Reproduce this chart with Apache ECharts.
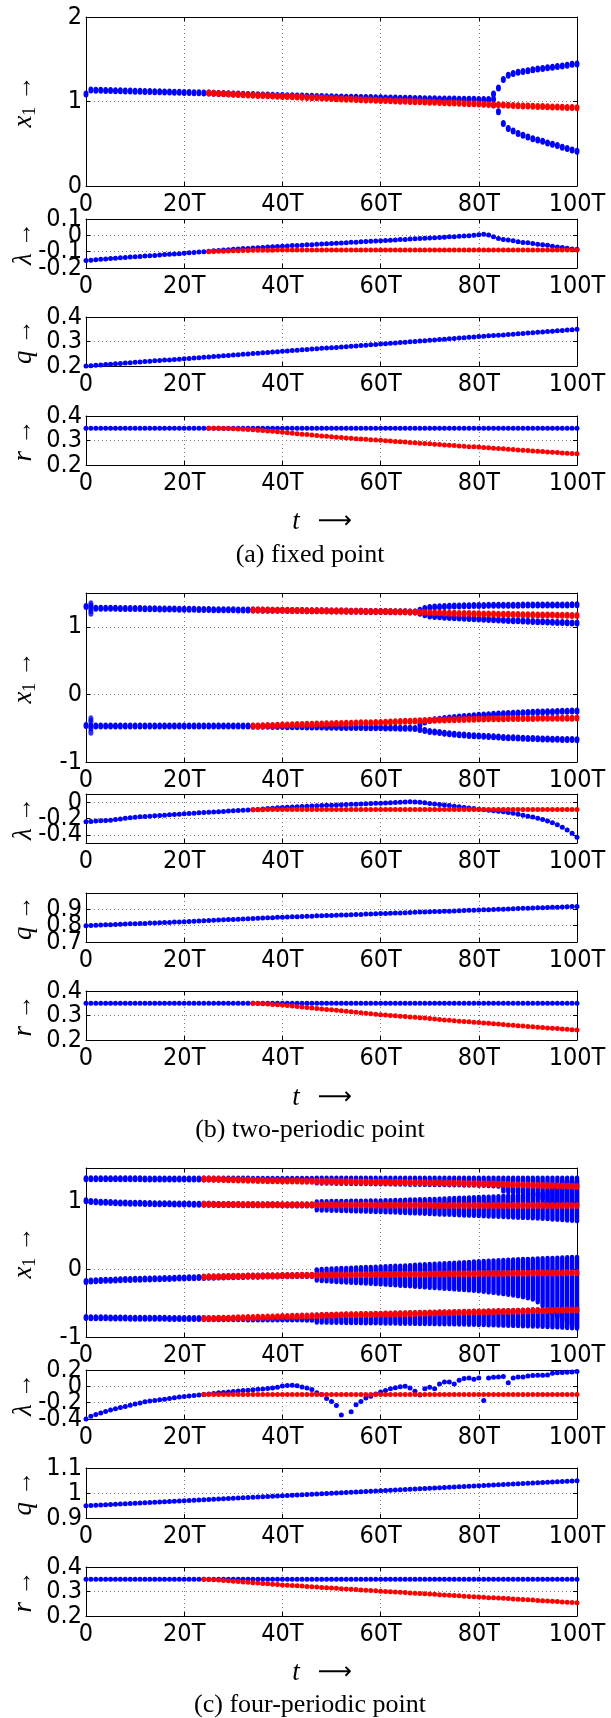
<!DOCTYPE html>
<html><head><meta charset="utf-8">
<script src="https://cdn.jsdelivr.net/npm/echarts@6/dist/echarts.min.js"></script>
<style>html,body{margin:0;padding:0;background:#fff}#c{width:611px;height:1718px}</style>
</head><body><div id="c"></div>
<script>
// ---------- tick labels ----------
const X_TICK_LABELS = ['0','20T','40T','60T','80T','100T'];
const Y_TICKS = [
  [0,1,2], [-0.2,-0.1,0,0.1], [0.2,0.3,0.4], [0.2,0.3,0.4],
  [-1,0,1], [-0.4,-0.2,0], [0.7,0.8,0.9], [0.2,0.3,0.4],
  [-1,0,1], [-0.4,-0.2,0,0.2], [0.9,1,1.1], [0.2,0.3,0.4]
];
const CAPTIONS = ['(a) fixed point','(b) two-periodic point','(c) four-periodic point'];

// ---------- panel (a) fixed point ----------
const A_X1_BLUE = [ // t = 0..83
1.090,1.135,1.134,1.133,1.131,1.130,1.128,1.127,1.125,1.124,
1.122,1.121,1.119,1.118,1.116,1.115,1.113,1.112,1.110,1.109,
1.107,1.106,1.104,1.103,1.101,1.100,1.098,1.096,1.094,1.092,
1.090,1.088,1.086,1.084,1.082,1.080,1.078,1.076,1.074,1.072,
1.070,1.068,1.067,1.065,1.064,1.062,1.061,1.059,1.058,1.056,
1.055,1.054,1.053,1.051,1.050,1.049,1.048,1.047,1.046,1.044,
1.043,1.042,1.041,1.040,1.039,1.038,1.037,1.036,1.035,1.034,
1.033,1.032,1.031,1.031,1.030,1.029,1.028,1.028,1.027,1.026,
1.025,1.025,1.025,1.028];
const A_X1_BLUE_UP = [ // t = 83..100
1.090,1.160,1.260,1.310,1.330,1.345,1.355,1.365,1.375,1.385,1.390,1.400,1.405,1.415,1.420,1.430,1.440,1.445];
const A_X1_BLUE_LOW = [ // t = 83..100
0.960,0.880,0.740,0.680,0.650,0.620,0.600,0.580,0.560,0.545,0.530,0.510,0.495,0.480,0.460,0.445,0.425,0.410];
const A_X1_RED = [ // t = 25..100
1.100,1.097,1.094,1.091,1.088,1.085,1.082,1.080,1.077,1.075,
1.072,1.070,1.067,1.065,1.062,1.060,1.058,1.055,1.053,1.050,
1.048,1.045,1.043,1.040,1.038,1.035,1.033,1.031,1.028,1.026,
1.024,1.022,1.019,1.017,1.015,1.013,1.011,1.009,1.006,1.004,
1.002,1.000,0.998,0.996,0.994,0.992,0.990,0.988,0.985,0.983,
0.981,0.979,0.976,0.974,0.972,0.969,0.967,0.965,0.963,0.961,
0.958,0.955,0.953,0.950,0.948,0.946,0.944,0.942,0.940,0.938,
0.936,0.934,0.932,0.930,0.928,0.926];
const A_LAM_BLUE = [ // t = 0..100
-0.154,-0.152,-0.149,-0.147,-0.145,-0.142,-0.140,-0.138,-0.135,-0.133,
-0.131,-0.129,-0.127,-0.125,-0.123,-0.120,-0.118,-0.116,-0.114,-0.112,
-0.110,-0.107,-0.105,-0.102,-0.100,-0.098,-0.095,-0.093,-0.090,-0.088,
-0.085,-0.083,-0.081,-0.080,-0.078,-0.076,-0.074,-0.072,-0.070,-0.069,
-0.067,-0.065,-0.063,-0.062,-0.060,-0.058,-0.057,-0.055,-0.053,-0.052,
-0.050,-0.048,-0.047,-0.045,-0.043,-0.042,-0.040,-0.038,-0.036,-0.035,
-0.033,-0.031,-0.030,-0.028,-0.026,-0.025,-0.023,-0.021,-0.020,-0.018,
-0.017,-0.015,-0.013,-0.011,-0.009,-0.008,-0.006,-0.004,-0.002,0.000,
0.004,0.006,0.002,-0.008,-0.019,-0.025,-0.029,-0.033,-0.040,-0.044,
-0.046,-0.050,-0.054,-0.058,-0.060,-0.067,-0.071,-0.075,-0.079,-0.083,-0.085];
const A_LAM_RED = [ // t = 25..100
-0.100,-0.099,-0.098,-0.097,-0.096,-0.095,-0.094,-0.093,-0.093,-0.092,
-0.092,-0.091,-0.091,-0.091,-0.090,
-0.090,-0.090,-0.090,-0.090,-0.090,-0.090,-0.090,-0.090,-0.090,-0.090,
-0.090,-0.090,-0.090,-0.090,-0.090,-0.090,-0.090,-0.090,-0.090,-0.090,
-0.090,-0.090,-0.090,-0.090,-0.090,-0.090,-0.090,-0.090,-0.090,-0.090,
-0.090,-0.090,-0.090,-0.090,-0.090,-0.090,-0.090,-0.090,-0.090,-0.090,
-0.090,-0.090,-0.090,-0.090,-0.090,-0.090,-0.090,-0.090,-0.090,-0.090,
-0.090,-0.090,-0.090,-0.090,-0.090,-0.090,-0.090,-0.090,-0.090,-0.090,-0.090];
const A_Q = [ // t = 0..100
0.200,0.201,0.203,0.204,0.206,0.207,0.209,0.210,0.212,0.213,
0.215,0.216,0.218,0.219,0.221,0.222,0.224,0.225,0.227,0.228,
0.230,0.231,0.233,0.234,0.236,0.237,0.239,0.240,0.242,0.243,
0.245,0.246,0.248,0.249,0.251,0.252,0.254,0.255,0.257,0.258,
0.260,0.261,0.263,0.264,0.266,0.267,0.269,0.270,0.272,0.273,
0.275,0.276,0.278,0.279,0.281,0.282,0.284,0.285,0.287,0.288,
0.290,0.291,0.293,0.294,0.296,0.297,0.299,0.300,0.302,0.303,
0.305,0.306,0.308,0.309,0.311,0.312,0.314,0.315,0.317,0.318,
0.320,0.321,0.323,0.324,0.326,0.327,0.329,0.330,0.332,0.333,
0.335,0.336,0.338,0.339,0.341,0.342,0.344,0.345,0.347,0.348,0.350];
const A_R_BLUE = [ // t = 0..100
0.35,0.35,0.35,0.35,0.35,0.35,0.35,0.35,0.35,0.35,
0.35,0.35,0.35,0.35,0.35,0.35,0.35,0.35,0.35,0.35,
0.35,0.35,0.35,0.35,0.35,0.35,0.35,0.35,0.35,0.35,
0.35,0.35,0.35,0.35,0.35,0.35,0.35,0.35,0.35,0.35,
0.35,0.35,0.35,0.35,0.35,0.35,0.35,0.35,0.35,0.35,
0.35,0.35,0.35,0.35,0.35,0.35,0.35,0.35,0.35,0.35,
0.35,0.35,0.35,0.35,0.35,0.35,0.35,0.35,0.35,0.35,
0.35,0.35,0.35,0.35,0.35,0.35,0.35,0.35,0.35,0.35,
0.35,0.35,0.35,0.35,0.35,0.35,0.35,0.35,0.35,0.35,
0.35,0.35,0.35,0.35,0.35,0.35,0.35,0.35,0.35,0.35,0.35];
const A_R_RED = [ // t = 25..100
0.350,0.350,0.350,0.349,0.349,0.348,0.347,0.346,0.345,0.344,
0.342,0.341,0.339,0.338,0.336,0.334,0.332,0.330,0.328,0.326,
0.324,0.322,0.320,0.318,0.317,0.315,0.313,0.312,0.310,0.309,
0.307,0.306,0.305,0.303,0.302,0.301,0.299,0.298,0.296,0.295,
0.294,0.292,0.291,0.289,0.288,0.287,0.285,0.284,0.282,0.281,
0.280,0.278,0.277,0.275,0.274,0.273,0.271,0.270,0.268,0.267,
0.266,0.264,0.263,0.261,0.260,0.259,0.257,0.256,0.255,0.253,
0.252,0.251,0.249,0.248,0.247,0.246];

// ---------- panel (b) two-periodic point ----------
const B_X1_BLUE_UP = [ // t = 0..67
1.300,1.285,1.276,1.275,1.274,1.273,1.273,1.272,1.271,1.270,
1.270,1.269,1.268,1.267,1.266,1.265,1.264,1.263,1.262,1.261,
1.260,1.259,1.258,1.257,1.256,1.255,1.254,1.253,1.253,1.252,
1.251,1.250,1.249,1.249,1.248,1.247,1.246,1.246,1.245,1.244,
1.243,1.242,1.242,1.241,1.240,1.239,1.238,1.237,1.236,1.236,
1.235,1.234,1.233,1.232,1.231,1.230,1.229,1.228,1.228,1.227,
1.226,1.225,1.224,1.223,1.222,1.221,1.220,1.220];
const B_X1_BLUE_UP_HI = [ // t = 68..100
1.245,1.270,1.285,1.292,1.297,1.301,1.304,1.306,1.308,1.310,1.312,1.314,
1.315,1.316,1.317,1.317,1.318,1.319,1.319,1.320,1.320,1.321,
1.321,1.322,1.322,1.322,1.323,1.323,1.323,1.324,1.324,1.325,1.325];
const B_X1_BLUE_UP_LO = [ // t = 68..100
1.200,1.178,1.160,1.153,1.147,1.142,1.137,1.133,1.129,1.126,1.123,1.120,
1.117,1.113,1.109,1.105,1.101,1.097,1.094,1.091,1.088,1.085,
1.082,1.079,1.076,1.073,1.071,1.068,1.065,1.063,1.060,1.058,1.055];
const B_X1_BLUE_LOW = [ // t = 0..67
-0.460,-0.465,-0.467,-0.467,-0.468,-0.468,-0.468,-0.468,-0.468,-0.468,
-0.468,-0.468,-0.468,-0.468,-0.468,-0.468,-0.468,-0.468,-0.468,-0.468,
-0.468,-0.468,-0.468,-0.468,-0.468,-0.468,-0.468,-0.468,-0.468,-0.468,
-0.468,-0.468,-0.469,-0.469,-0.470,-0.471,-0.472,-0.473,-0.474,-0.475,
-0.476,-0.477,-0.478,-0.479,-0.480,-0.481,-0.482,-0.483,-0.484,-0.485,
-0.486,-0.487,-0.488,-0.488,-0.489,-0.490,-0.491,-0.492,-0.493,-0.494,
-0.495,-0.496,-0.497,-0.498,-0.499,-0.500,-0.501,-0.505];
const B_X1_BLUE_LOW_HI = [ // t = 68..100
-0.450,-0.410,-0.385,-0.375,-0.366,-0.357,-0.349,-0.342,-0.335,-0.328,-0.322,-0.316,
-0.310,-0.305,-0.300,-0.295,-0.291,-0.287,-0.283,-0.279,-0.275,-0.272,
-0.268,-0.265,-0.262,-0.259,-0.257,-0.255,-0.253,-0.251,-0.249,-0.247,-0.246];
const B_X1_BLUE_LOW_LO = [ // t = 68..100
-0.520,-0.535,-0.547,-0.556,-0.565,-0.573,-0.581,-0.590,-0.596,-0.602,-0.607,-0.612,
-0.616,-0.620,-0.624,-0.628,-0.632,-0.636,-0.640,-0.643,-0.646,-0.649,
-0.652,-0.654,-0.656,-0.658,-0.660,-0.662,-0.664,-0.666,-0.667,-0.668,-0.670];
const B_X1_TRANSIENT = [1.34,1.31,1.24,1.20,-0.36,-0.40,-0.50,-0.56]; // all at t = 1
const B_X1_RED_UP = [ // t = 34..100
1.250,1.249,1.248,1.247,1.246,1.245,1.244,1.243,1.242,1.241,
1.240,1.239,1.238,1.237,1.236,1.235,1.234,1.233,1.232,1.231,
1.231,1.230,1.229,1.228,1.228,1.227,1.227,1.226,1.225,1.224,
1.223,1.222,1.220,1.219,1.217,1.214,1.211,1.208,1.206,1.204,
1.202,1.200,1.198,1.197,1.195,1.194,1.192,1.191,1.189,1.188,
1.186,1.185,1.184,1.182,1.181,1.180,1.179,1.177,1.176,1.175,
1.174,1.173,1.172,1.171,1.170,1.168,1.167];
const B_X1_RED_LOW = [ // t = 34..100
-0.468,-0.466,-0.463,-0.461,-0.459,-0.457,-0.454,-0.452,-0.450,-0.447,
-0.445,-0.443,-0.441,-0.439,-0.437,-0.435,-0.433,-0.431,-0.429,-0.427,
-0.425,-0.423,-0.421,-0.420,-0.418,-0.416,-0.414,-0.411,-0.408,-0.405,
-0.402,-0.399,-0.396,-0.393,-0.390,-0.387,-0.384,-0.382,-0.380,-0.378,
-0.376,-0.374,-0.372,-0.370,-0.368,-0.366,-0.364,-0.363,-0.362,-0.361,
-0.360,-0.359,-0.358,-0.357,-0.357,-0.356,-0.355,-0.355,-0.354,-0.354,
-0.353,-0.353,-0.352,-0.352,-0.351,-0.351,-0.350];
const B_LAM_BLUE = [ // t = 0..100
-0.240,-0.236,-0.232,-0.228,-0.224,-0.220,-0.212,-0.205,-0.198,-0.191,
-0.184,-0.179,-0.175,-0.171,-0.167,-0.163,-0.159,-0.155,-0.151,-0.147,
-0.143,-0.139,-0.135,-0.131,-0.127,-0.123,-0.120,-0.116,-0.113,-0.109,
-0.106,-0.103,-0.100,-0.097,-0.094,-0.089,-0.084,-0.079,-0.074,-0.069,
-0.065,-0.062,-0.059,-0.056,-0.053,-0.050,-0.047,-0.044,-0.041,-0.039,
-0.037,-0.034,-0.032,-0.029,-0.027,-0.024,-0.022,-0.019,-0.017,-0.014,
-0.012,-0.009,-0.006,-0.003,0.000,0.002,0.004,0.003,0.000,-0.008,
-0.016,-0.022,-0.029,-0.036,-0.042,-0.049,-0.056,-0.064,-0.071,-0.079,
-0.086,-0.092,-0.099,-0.105,-0.112,-0.118,-0.127,-0.137,-0.148,-0.159,
-0.171,-0.183,-0.196,-0.211,-0.230,-0.253,-0.278,-0.306,-0.340,-0.380,-0.429];
const B_LAM_RED = [ // t = 34..100
-0.094,-0.093,-0.092,-0.091,-0.090,-0.090,-0.090,-0.090,-0.090,-0.090,
-0.090,-0.090,-0.090,-0.090,-0.090,-0.090,-0.090,-0.090,-0.090,-0.090,
-0.090,-0.090,-0.090,-0.090,-0.090,-0.090,-0.090,-0.090,-0.090,-0.090,
-0.090,-0.090,-0.090,-0.090,-0.090,-0.090,-0.090,-0.090,-0.090,-0.090,
-0.090,-0.090,-0.090,-0.090,-0.090,-0.090,-0.090,-0.090,-0.090,-0.090,
-0.090,-0.090,-0.090,-0.090,-0.090,-0.090,-0.090,-0.090,-0.090,-0.090,
-0.090,-0.090,-0.090,-0.090,-0.090,-0.090,-0.090];
const B_Q = [ // t = 0..100
0.800,0.801,0.802,0.804,0.805,0.806,0.807,0.808,0.810,0.811,
0.812,0.813,0.814,0.816,0.817,0.818,0.819,0.820,0.822,0.823,
0.824,0.826,0.827,0.829,0.830,0.831,0.833,0.834,0.836,0.837,
0.838,0.840,0.841,0.842,0.844,0.845,0.847,0.848,0.849,0.851,
0.852,0.853,0.854,0.855,0.856,0.857,0.858,0.860,0.861,0.862,
0.863,0.864,0.865,0.866,0.867,0.868,0.869,0.871,0.872,0.873,
0.874,0.875,0.876,0.877,0.878,0.879,0.880,0.882,0.883,0.884,
0.885,0.886,0.887,0.888,0.889,0.890,0.891,0.893,0.894,0.895,
0.896,0.897,0.898,0.899,0.900,0.901,0.902,0.904,0.905,0.906,
0.907,0.908,0.909,0.910,0.911,0.912,0.913,0.915,0.916,0.917,0.918];
const B_R_BLUE = [ // t = 0..100
0.35,0.35,0.35,0.35,0.35,0.35,0.35,0.35,0.35,0.35,
0.35,0.35,0.35,0.35,0.35,0.35,0.35,0.35,0.35,0.35,
0.35,0.35,0.35,0.35,0.35,0.35,0.35,0.35,0.35,0.35,
0.35,0.35,0.35,0.35,0.35,0.35,0.35,0.35,0.35,0.35,
0.35,0.35,0.35,0.35,0.35,0.35,0.35,0.35,0.35,0.35,
0.35,0.35,0.35,0.35,0.35,0.35,0.35,0.35,0.35,0.35,
0.35,0.35,0.35,0.35,0.35,0.35,0.35,0.35,0.35,0.35,
0.35,0.35,0.35,0.35,0.35,0.35,0.35,0.35,0.35,0.35,
0.35,0.35,0.35,0.35,0.35,0.35,0.35,0.35,0.35,0.35,
0.35,0.35,0.35,0.35,0.35,0.35,0.35,0.35,0.35,0.35,0.35];
const B_R_RED = [ // t = 34..100
0.350,0.349,0.348,0.347,0.345,0.344,0.343,0.341,0.339,0.337,
0.335,0.333,0.331,0.329,0.327,0.325,0.323,0.321,0.319,0.317,
0.315,0.313,0.311,0.309,0.307,0.305,0.303,0.302,0.300,0.299,
0.297,0.296,0.294,0.293,0.291,0.290,0.288,0.286,0.284,0.282,
0.281,0.279,0.277,0.276,0.274,0.272,0.271,0.269,0.268,0.266,
0.265,0.263,0.261,0.260,0.258,0.257,0.255,0.254,0.252,0.251,
0.249,0.248,0.247,0.245,0.244,0.242,0.241];

// ---------- panel (c) four-periodic point ----------
const C_X1_BLUE_1 = [ // t = 0..46
1.342,1.342,1.342,1.341,1.341,1.341,1.341,1.340,1.340,1.340,
1.340,1.340,1.339,1.339,1.339,1.339,1.339,1.338,1.338,1.338,
1.338,1.338,1.338,1.337,1.337,1.337,1.337,1.337,1.336,1.336,
1.336,1.336,1.336,1.336,1.335,1.335,1.335,1.335,1.335,1.334,
1.334,1.334,1.334,1.334,1.333,1.333,1.333];
const C_X1_BLUE_2 = [ // t = 0..46
1.015,1.005,1.000,0.995,0.992,0.989,0.986,0.984,0.982,0.980,
0.978,0.977,0.975,0.974,0.973,0.972,0.971,0.970,0.969,0.968,
0.967,0.966,0.965,0.964,0.963,0.962,0.962,0.961,0.960,0.960,
0.959,0.959,0.958,0.958,0.957,0.957,0.956,0.956,0.955,0.955,
0.954,0.954,0.953,0.953,0.952,0.952,0.951];
const C_X1_BLUE_3 = [ // t = 0..46
-0.178,-0.172,-0.168,-0.165,-0.162,-0.159,-0.156,-0.153,-0.151,-0.149,
-0.147,-0.145,-0.143,-0.141,-0.139,-0.137,-0.135,-0.133,-0.131,-0.129,
-0.127,-0.125,-0.123,-0.121,-0.119,-0.117,-0.115,-0.113,-0.111,-0.109,
-0.108,-0.106,-0.105,-0.103,-0.102,-0.100,-0.099,-0.098,-0.097,-0.096,
-0.095,-0.094,-0.093,-0.092,-0.091,-0.090,-0.089];
const C_X1_BLUE_4 = [ // t = 0..46
-0.712,-0.714,-0.715,-0.716,-0.717,-0.718,-0.719,-0.720,-0.720,-0.721,
-0.721,-0.722,-0.722,-0.723,-0.723,-0.724,-0.724,-0.725,-0.725,-0.726,
-0.726,-0.727,-0.727,-0.728,-0.728,-0.729,-0.729,-0.730,-0.730,-0.730,
-0.731,-0.731,-0.731,-0.732,-0.732,-0.732,-0.733,-0.733,-0.733,-0.734,
-0.734,-0.734,-0.735,-0.735,-0.735,-0.736,-0.736];
// spread of the uncontrolled iterates, t = 47..100 (low / high of each band)
const C_BAND1_HI = [
1.352,1.352,1.352,1.352,1.352,1.352,1.352,1.352,1.352,1.352,
1.352,1.352,1.352,1.352,1.352,1.352,1.352,1.352,1.352,1.352,
1.352,1.352,1.352,1.352,1.352,1.352,1.352,1.352,1.352,1.352,
1.352,1.352,1.352,1.352,1.352,1.352,1.352,1.352,1.352,1.352,
1.352,1.352,1.352,1.352,1.352,1.352,1.352,1.352,1.352,1.352,
1.352,1.352,1.352,1.352];
const C_BAND1_LO = [
1.278,1.277,1.276,1.275,1.274,1.273,1.272,1.271,1.270,1.269,
1.268,1.267,1.266,1.265,1.264,1.263,1.262,1.261,1.260,1.259,
1.258,1.257,1.256,1.255,1.254,1.253,1.252,1.251,1.250,1.249,
1.248,1.247,1.246,1.244,1.242,1.240,1.236,1.230,1.160,1.150,
1.145,1.140,1.135,1.130,1.125,1.100,1.050,0.990,0.980,0.975,
0.970,0.965,0.960,0.955];
const C_BAND2_HI = [
1.000,1.002,1.004,1.005,1.006,1.007,1.008,1.009,1.010,1.011,
1.012,1.013,1.014,1.015,1.017,1.019,1.021,1.023,1.025,1.027,
1.029,1.031,1.033,1.035,1.038,1.041,1.044,1.047,1.050,1.053,
1.056,1.059,1.062,1.065,1.068,1.071,1.074,1.077,1.082,1.087,
1.092,1.097,1.102,1.107,1.112,1.117,1.122,1.150,1.200,1.250,
1.300,1.300,1.300,1.300];
const C_BAND2_LO = [
0.880,0.878,0.876,0.874,0.872,0.870,0.868,0.866,0.864,0.862,
0.860,0.858,0.856,0.854,0.852,0.849,0.846,0.843,0.840,0.837,
0.834,0.831,0.828,0.825,0.822,0.819,0.816,0.813,0.810,0.807,
0.804,0.801,0.798,0.795,0.792,0.789,0.786,0.783,0.780,0.777,
0.774,0.771,0.768,0.765,0.762,0.758,0.754,0.750,0.745,0.740,
0.735,0.730,0.725,0.720];
const C_BAND3_HI = [
-0.005,0.000,0.005,0.008,0.011,0.014,0.017,0.020,0.023,0.026,
0.029,0.032,0.035,0.038,0.041,0.044,0.047,0.050,0.054,0.058,
0.062,0.066,0.070,0.074,0.078,0.082,0.086,0.090,0.094,0.098,
0.102,0.106,0.110,0.114,0.118,0.122,0.126,0.130,0.134,0.138,
0.141,0.144,0.147,0.150,0.153,0.156,0.159,0.162,0.165,0.168,
0.171,0.174,0.177,0.180];
const C_BAND3_LO = [
-0.160,-0.165,-0.170,-0.175,-0.180,-0.184,-0.188,-0.192,-0.196,-0.200,
-0.204,-0.208,-0.212,-0.216,-0.220,-0.225,-0.230,-0.235,-0.240,-0.245,
-0.250,-0.255,-0.260,-0.265,-0.270,-0.275,-0.280,-0.285,-0.290,-0.295,
-0.300,-0.305,-0.310,-0.318,-0.326,-0.334,-0.342,-0.350,-0.360,-0.370,
-0.380,-0.392,-0.405,-0.420,-0.440,-0.480,-0.540,-0.600,-0.650,-0.700,
-0.750,-0.800,-0.820,-0.850];
const C_BAND4_HI = [
-0.675,-0.673,-0.671,-0.669,-0.667,-0.665,-0.663,-0.661,-0.660,-0.659,
-0.658,-0.657,-0.655,-0.653,-0.651,-0.650,-0.648,-0.646,-0.645,-0.643,
-0.641,-0.640,-0.638,-0.636,-0.635,-0.633,-0.631,-0.630,-0.628,-0.627,
-0.625,-0.624,-0.622,-0.621,-0.619,-0.617,-0.616,-0.614,-0.612,-0.610,
-0.608,-0.606,-0.604,-0.602,-0.600,-0.598,-0.596,-0.594,-0.592,-0.590,
-0.585,-0.575,-0.565,-0.555];
const C_BAND4_LO = [
-0.780,-0.781,-0.782,-0.783,-0.784,-0.785,-0.786,-0.787,-0.788,-0.789,
-0.790,-0.791,-0.792,-0.793,-0.794,-0.795,-0.796,-0.797,-0.798,-0.799,
-0.800,-0.801,-0.802,-0.803,-0.804,-0.805,-0.806,-0.807,-0.808,-0.809,
-0.810,-0.812,-0.814,-0.816,-0.818,-0.820,-0.822,-0.824,-0.826,-0.828,
-0.830,-0.832,-0.834,-0.836,-0.838,-0.840,-0.843,-0.846,-0.849,-0.852,
-0.856,-0.860,-0.865,-0.870];
const C_X1_RED_1 = [ // t = 24..100
1.338,1.336,1.334,1.332,1.330,1.328,1.326,1.324,1.322,1.320,
1.318,1.316,1.315,1.313,1.312,1.310,1.309,1.308,1.307,1.306,
1.305,1.304,1.303,1.302,1.301,1.300,1.299,1.298,1.297,1.296,
1.295,1.294,1.293,1.292,1.291,1.290,1.289,1.288,1.287,1.286,
1.285,1.284,1.283,1.282,1.281,1.280,1.279,1.278,1.277,1.276,
1.275,1.274,1.273,1.272,1.271,1.270,1.268,1.266,1.264,1.262,
1.260,1.258,1.256,1.254,1.252,1.250,1.248,1.246,1.244,1.242,
1.240,1.238,1.236,1.234,1.232,1.230,1.228];
const C_X1_RED_2 = [ // t = 24..100
0.962,0.962,0.961,0.961,0.961,0.960,0.960,0.960,0.959,0.959,
0.959,0.958,0.958,0.958,0.957,0.957,0.957,0.956,0.956,0.956,
0.955,0.955,0.955,0.954,0.954,0.954,0.953,0.953,0.953,0.952,
0.952,0.952,0.951,0.951,0.951,0.950,0.950,0.950,0.950,0.949,
0.949,0.949,0.949,0.948,0.948,0.948,0.948,0.947,0.947,0.947,
0.947,0.947,0.946,0.946,0.946,0.946,0.946,0.946,0.945,0.945,
0.945,0.945,0.945,0.945,0.945,0.945,0.945,0.945,0.945,0.945,
0.945,0.945,0.945,0.945,0.945,0.945,0.945];
const C_X1_RED_3 = [ // t = 24..100
-0.112,-0.110,-0.109,-0.107,-0.106,-0.104,-0.103,-0.101,-0.100,-0.099,
-0.098,-0.097,-0.096,-0.095,-0.094,-0.093,-0.092,-0.091,-0.090,-0.089,
-0.088,-0.087,-0.087,-0.086,-0.085,-0.084,-0.084,-0.083,-0.082,-0.081,
-0.081,-0.080,-0.079,-0.078,-0.078,-0.077,-0.076,-0.075,-0.075,-0.074,
-0.073,-0.073,-0.072,-0.071,-0.071,-0.070,-0.069,-0.068,-0.068,-0.067,
-0.066,-0.066,-0.065,-0.064,-0.064,-0.063,-0.062,-0.062,-0.061,-0.060,
-0.060,-0.059,-0.058,-0.058,-0.057,-0.057,-0.056,-0.055,-0.055,-0.054,
-0.054,-0.053,-0.052,-0.052,-0.051,-0.051,-0.050];
const C_X1_RED_4 = [ // t = 24..100
-0.728,-0.727,-0.726,-0.724,-0.723,-0.721,-0.719,-0.717,-0.715,-0.713,
-0.711,-0.709,-0.707,-0.705,-0.703,-0.700,-0.698,-0.696,-0.694,-0.692,
-0.690,-0.688,-0.686,-0.684,-0.682,-0.680,-0.678,-0.676,-0.674,-0.672,
-0.671,-0.670,-0.669,-0.668,-0.667,-0.665,-0.663,-0.661,-0.660,-0.658,
-0.656,-0.655,-0.653,-0.651,-0.650,-0.648,-0.646,-0.645,-0.643,-0.641,
-0.640,-0.638,-0.637,-0.635,-0.634,-0.632,-0.631,-0.629,-0.628,-0.626,
-0.624,-0.623,-0.621,-0.620,-0.618,-0.616,-0.615,-0.613,-0.612,-0.610,
-0.608,-0.607,-0.605,-0.604,-0.602,-0.601,-0.600];
const C_LAM_BLUE = [ // t = 0..100 (null: point below the axis range)
-0.400,-0.367,-0.346,-0.326,-0.307,-0.290,-0.274,-0.260,-0.247,-0.231,
-0.215,-0.203,-0.190,-0.181,-0.173,-0.165,-0.157,-0.148,-0.140,-0.132,
-0.124,-0.117,-0.111,-0.105,-0.099,-0.093,-0.087,-0.080,-0.074,-0.068,
-0.062,-0.057,-0.052,-0.048,-0.043,-0.037,-0.032,-0.027,-0.020,-0.012,
0.004,0.010,0.012,0.006,-0.008,-0.020,-0.040,-0.080,-0.100,-0.150,
-0.186,-0.235,-0.350,null,-0.310,-0.227,-0.186,-0.144,-0.120,-0.095,
-0.070,-0.050,-0.030,-0.016,-0.005,0.000,-0.020,-0.060,-0.105,-0.030,
-0.010,-0.030,0.030,0.054,0.054,0.030,0.074,0.095,0.103,0.087,
0.103,-0.173,0.103,0.111,0.115,0.120,0.045,0.103,0.115,0.115,
0.128,0.132,0.136,0.136,0.140,0.160,0.165,0.169,0.173,0.177,0.182];
const C_LAM_RED = [ // t = 24..100
-0.100,-0.100,-0.100,-0.100,-0.100,-0.100,-0.100,-0.100,-0.100,-0.100,
-0.100,-0.100,-0.100,-0.100,-0.100,-0.100,-0.100,-0.100,-0.100,-0.100,
-0.100,-0.100,-0.100,-0.100,-0.100,-0.100,-0.100,-0.100,-0.100,-0.100,
-0.100,-0.100,-0.100,-0.100,-0.100,-0.100,-0.100,-0.100,-0.100,-0.100,
-0.100,-0.100,-0.100,-0.100,-0.100,-0.100,-0.100,-0.100,-0.100,-0.100,
-0.100,-0.100,-0.100,-0.100,-0.100,-0.100,-0.100,-0.100,-0.100,-0.100,
-0.100,-0.100,-0.100,-0.100,-0.100,-0.100,-0.100,-0.100,-0.100,-0.100,
-0.100,-0.100,-0.100,-0.100,-0.100,-0.100,-0.100];
const C_Q = [ // t = 0..100
0.949,0.950,0.951,0.952,0.953,0.954,0.955,0.956,0.957,0.958,
0.959,0.960,0.961,0.962,0.963,0.964,0.965,0.966,0.967,0.968,
0.969,0.970,0.971,0.972,0.973,0.974,0.975,0.976,0.977,0.978,
0.979,0.980,0.981,0.982,0.983,0.984,0.985,0.986,0.987,0.988,
0.989,0.990,0.991,0.992,0.993,0.994,0.995,0.996,0.997,0.998,
0.999,1.000,1.001,1.002,1.003,1.004,1.005,1.006,1.007,1.008,
1.009,1.010,1.011,1.012,1.013,1.014,1.015,1.016,1.017,1.018,
1.019,1.020,1.021,1.022,1.023,1.024,1.025,1.026,1.027,1.028,
1.029,1.030,1.031,1.032,1.033,1.034,1.035,1.036,1.037,1.038,
1.039,1.040,1.041,1.042,1.043,1.044,1.045,1.046,1.047,1.048,1.049];
const C_R_BLUE = [ // t = 0..100
0.35,0.35,0.35,0.35,0.35,0.35,0.35,0.35,0.35,0.35,
0.35,0.35,0.35,0.35,0.35,0.35,0.35,0.35,0.35,0.35,
0.35,0.35,0.35,0.35,0.35,0.35,0.35,0.35,0.35,0.35,
0.35,0.35,0.35,0.35,0.35,0.35,0.35,0.35,0.35,0.35,
0.35,0.35,0.35,0.35,0.35,0.35,0.35,0.35,0.35,0.35,
0.35,0.35,0.35,0.35,0.35,0.35,0.35,0.35,0.35,0.35,
0.35,0.35,0.35,0.35,0.35,0.35,0.35,0.35,0.35,0.35,
0.35,0.35,0.35,0.35,0.35,0.35,0.35,0.35,0.35,0.35,
0.35,0.35,0.35,0.35,0.35,0.35,0.35,0.35,0.35,0.35,
0.35,0.35,0.35,0.35,0.35,0.35,0.35,0.35,0.35,0.35,0.35];
const C_R_RED = [ // t = 24..100
0.350,0.349,0.348,0.347,0.345,0.344,0.342,0.341,0.339,0.338,
0.336,0.335,0.333,0.332,0.330,0.329,0.327,0.326,0.324,0.323,
0.322,0.320,0.319,0.318,0.316,0.315,0.314,0.313,0.311,0.310,
0.309,0.308,0.306,0.305,0.304,0.303,0.301,0.300,0.299,0.298,
0.297,0.296,0.294,0.293,0.292,0.291,0.290,0.289,0.287,0.286,
0.285,0.284,0.283,0.281,0.280,0.279,0.278,0.277,0.275,0.274,
0.273,0.272,0.271,0.269,0.268,0.267,0.266,0.265,0.263,0.262,
0.261,0.260,0.259,0.257,0.256,0.255,0.254];

// ---------- styling / layout ----------
const BLUE = '#0000ff', RED = '#ff0000';
const NUM_FONT = "'Liberation Sans Narrow','DejaVu Sans Condensed','Liberation Sans',sans-serif";
const SERIF = "'Liberation Serif','DejaVu Serif',serif";
const PLOT_LEFT = 86, PLOT_WIDTH = 491;
const GRIDS = [
  [17,169],[219,49],[317,49],[416,49],
  [593,169],[794,49],[893,49],[991,49],
  [1168,169],[1370,49],[1468,50],[1567,49]
];
const Y_AXES = [
  {min:0,max:2,interval:1,name:'x'}, {min:-0.2,max:0.1,interval:0.1,name:'l'},
  {min:0.2,max:0.4,interval:0.1,name:'q'}, {min:0.2,max:0.4,interval:0.1,name:'r'},
  {min:-1,max:1.5,interval:1,name:'x'}, {min:-0.5,max:0.1,interval:0.1,custom:[-0.4,-0.2,0],name:'l'},
  {min:0.7,max:1.0,interval:0.1,name:'q'}, {min:0.2,max:0.4,interval:0.1,name:'r'},
  {min:-1,max:1.5,interval:1,name:'x'}, {min:-0.4,max:0.2,interval:0.2,name:'l'},
  {min:0.9,max:1.1,interval:0.1,name:'q'}, {min:0.2,max:0.4,interval:0.1,name:'r'}
];
const NAMES = {x:'{m|x}{s|1}{a| →}', l:'{m|λ}{a| →}', q:'{m|q}{a| →}', r:'{m|r}{a| →}'};
const NAME_RICH = {
  m:{fontFamily:SERIF,fontStyle:'italic',fontSize:27,lineHeight:30,color:'#000'},
  s:{fontFamily:SERIF,fontSize:18,lineHeight:18,verticalAlign:'bottom',color:'#000'},
  a:{fontFamily:SERIF,fontSize:25,lineHeight:30,color:'#000'}
};

const grid = [], xAxis = [], yAxis = [], series = [];
const mainY = [];
const lineStyle = {color:'#000', width:1};
const tick = {show:true, inside:true, length:4, lineStyle};
const split = {show:true, lineStyle:{color:'#7f7f7f', width:1, type:[1,3]}};
const fmtNum = v => String(+(+v).toFixed(2));
const EPS = 1e-9;
GRIDS.forEach((g, i) => {
  grid.push({left:PLOT_LEFT, width:PLOT_WIDTH, top:g[0], height:g[1], containLabel:false});
  const xa = {type:'value', gridIndex:i, min:0, max:100, interval:20,
    axisLine:{show:true, onZero:false, lineStyle}, axisTick:tick, splitLine:split};
  xAxis.push(Object.assign({}, xa, {position:'bottom',
    axisLabel:{show:true, interval:0, margin:6, color:'#000', fontFamily:NUM_FONT, fontSize:25,
      showMinLabel:true, showMaxLabel:true, hideOverlap:false,
      formatter:v => X_TICK_LABELS[Math.round(v/20)]}}));
  xAxis.push(Object.assign({}, xa, {position:'top', axisLabel:{show:false}, splitLine:{show:false}}));
  const c = Y_AXES[i];
  const ya = {type:'value', gridIndex:i, min:c.min, max:c.max, interval:c.interval,
    axisLine:{show:true, onZero:false, lineStyle},
    axisTick:Object.assign({}, tick, c.custom ? {customValues:c.custom} : {}),
    splitLine:split};
  mainY.push(yAxis.length);
  yAxis.push(Object.assign({}, ya, {position:'left',
    name:NAMES[c.name], nameLocation:'middle', nameRotate:90, nameGap:47,
    nameTextStyle:{rich:NAME_RICH}, axisLabel:{show:false}}));
  yAxis.push(Object.assign({}, ya, {position:'right', axisLabel:{show:false}, splitLine:{show:false}}));
  // one label-only axis per tick label, so overlapping labels are all kept (as in the original)
  Y_TICKS[i].forEach(v => {
    yAxis.push({type:'value', gridIndex:i, position:'left', min:c.min - EPS, max:c.max + EPS,
      axisLine:{show:false, onZero:false}, axisTick:{show:false}, splitLine:{show:false},
      axisLabel:{show:true, customValues:[v], margin:4, color:'#000', fontFamily:NUM_FONT, fontSize:25,
        showMinLabel:true, showMaxLabel:true, hideOverlap:false, formatter:fmtNum}});
  });
});

function pts(start, vals) {
  const out = [];
  vals.forEach((v, i) => { if (v !== null) out.push([start + i, v]); });
  return out;
}
function dots(g, start, vals, color, size) {
  series.push({type:'scatter', xAxisIndex:2*g, yAxisIndex:mainY[g], data:pts(start, vals),
    symbol:'circle', symbolSize:size, itemStyle:{color, opacity:1}, silent:true,
    z: color === RED ? 4 : 3, animation:false});
}
function band(g, start, lo, hi, color) {
  const data = lo.map((v, i) => [start + i, v, hi[i]]);
  series.push({type:'custom', xAxisIndex:2*g, yAxisIndex:mainY[g], data, silent:true, z:3,
    encode:{x:0, y:[1,2]},
    renderItem:(params, api) => {
      const a = api.coord([api.value(0), api.value(2)]);
      const b = api.coord([api.value(0), api.value(1)]);
      const w = 4.4;
      return {type:'rect', shape:{x:a[0]-w/2, y:a[1]-2.6, width:w, height:b[1]-a[1]+5.2, r:2.2},
        style:{fill:color}};
    }});
}
const X1S = [5, 7], DS = 5;
// panel a
dots(0, 0, A_X1_BLUE, BLUE, X1S);
dots(0, 83, A_X1_BLUE_UP, BLUE, X1S);
dots(0, 83, A_X1_BLUE_LOW, BLUE, X1S);
dots(0, 25, A_X1_RED, RED, X1S);
dots(1, 0, A_LAM_BLUE, BLUE, DS);
dots(1, 25, A_LAM_RED, RED, DS);
dots(2, 0, A_Q, BLUE, DS);
dots(3, 0, A_R_BLUE, BLUE, DS);
dots(3, 25, A_R_RED, RED, DS);
// panel b
dots(4, 0, B_X1_BLUE_UP, BLUE, X1S);
dots(4, 68, B_X1_BLUE_UP_HI, BLUE, X1S);
dots(4, 68, B_X1_BLUE_UP_LO, BLUE, X1S);
dots(4, 0, B_X1_BLUE_LOW, BLUE, X1S);
dots(4, 68, B_X1_BLUE_LOW_HI, BLUE, X1S);
dots(4, 68, B_X1_BLUE_LOW_LO, BLUE, X1S);
series.push({type:'scatter', xAxisIndex:8, yAxisIndex:mainY[4], data:B_X1_TRANSIENT.map(v => [1, v]),
  symbolSize:X1S, itemStyle:{color:BLUE}, silent:true, z:3});
dots(4, 34, B_X1_RED_UP, RED, X1S);
dots(4, 34, B_X1_RED_LOW, RED, X1S);
dots(5, 0, B_LAM_BLUE, BLUE, DS);
dots(5, 34, B_LAM_RED, RED, DS);
dots(6, 0, B_Q, BLUE, DS);
dots(7, 0, B_R_BLUE, BLUE, DS);
dots(7, 34, B_R_RED, RED, DS);
// panel c
dots(8, 0, C_X1_BLUE_1, BLUE, X1S);
dots(8, 0, C_X1_BLUE_2, BLUE, X1S);
dots(8, 0, C_X1_BLUE_3, BLUE, X1S);
dots(8, 0, C_X1_BLUE_4, BLUE, X1S);
band(8, 47, C_BAND1_LO, C_BAND1_HI, BLUE);
band(8, 47, C_BAND2_LO, C_BAND2_HI, BLUE);
band(8, 47, C_BAND3_LO, C_BAND3_HI, BLUE);
band(8, 47, C_BAND4_LO, C_BAND4_HI, BLUE);
dots(8, 24, C_X1_RED_1, RED, X1S);
dots(8, 24, C_X1_RED_2, RED, X1S);
dots(8, 24, C_X1_RED_3, RED, X1S);
dots(8, 24, C_X1_RED_4, RED, X1S);
dots(9, 0, C_LAM_BLUE, BLUE, DS);
dots(9, 24, C_LAM_RED, RED, DS);
dots(10, 0, C_Q, BLUE, DS);
dots(11, 0, C_R_BLUE, BLUE, DS);
dots(11, 24, C_R_RED, RED, DS);

// t-axis labels and captions
const graphic = [];
[[521.7,555],[1098,1130],[1673,1705]].forEach((p, i) => {
  graphic.push({type:'text', x:296, y:p[0], silent:true,
    style:{text:'t', fontFamily:SERIF, fontStyle:'italic', fontSize:27, fill:'#000', align:'center', verticalAlign:'middle'}});
  graphic.push({type:'text', x:335, y:p[0], silent:true,
    style:{text:'⟶', fontFamily:"'DejaVu Sans',sans-serif", fontSize:24, fill:'#000', align:'center', verticalAlign:'middle'}});
  graphic.push({type:'text', x:310, y:p[1], silent:true,
    style:{text:CAPTIONS[i], fontFamily:SERIF, fontSize:26, fill:'#000', align:'center', verticalAlign:'middle'}});
});

const chart = echarts.init(document.getElementById('c'), null, {renderer:'canvas'});
chart.setOption({animation:false, backgroundColor:'#fff', grid, xAxis, yAxis, series, graphic});
</script></body></html>
